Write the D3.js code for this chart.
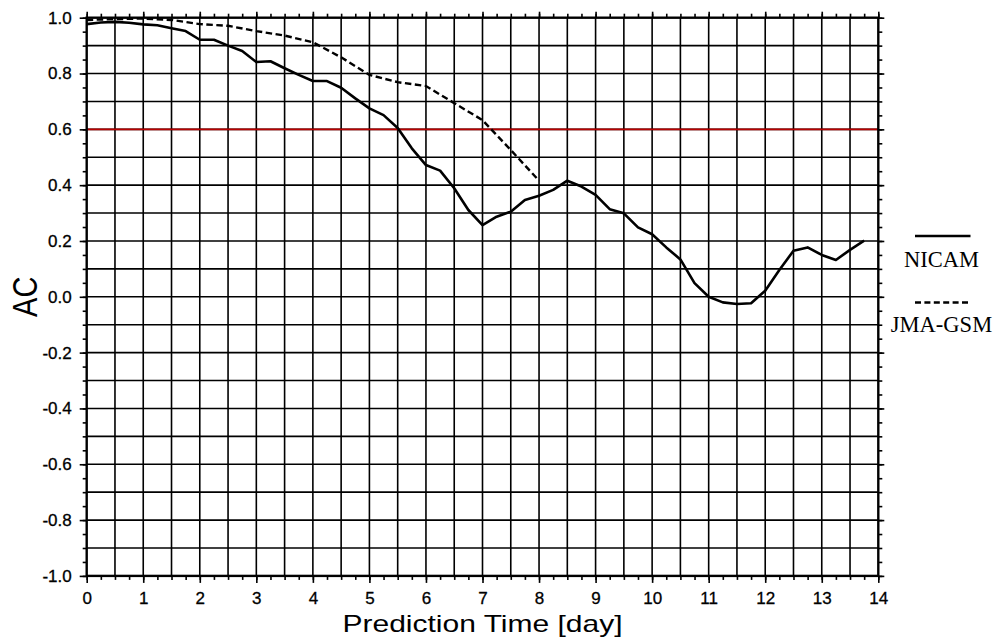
<!DOCTYPE html>
<meta charset="utf-8">
<head>
  <title>AC vs Prediction Time</title>
  <style>
  body { margin: 0; background: #fff; }
  .tick text { font-family: "Liberation Sans", Arial, sans-serif; font-size: 17px; fill: #000; }
  .domain { display: none; }
  </style>
</head>
<html>
  <body>
    <svg width="997" height="644"></svg>
  </body>
</html>
<script src="https://d3js.org/d3.v7.min.js"></script>
<script>
// NICAM: every 6 h (0.25 day)
var nicamDays = [0, 0.25, 0.5, 0.75, 1, 1.25, 1.5, 1.75, 2, 2.25, 2.5, 2.75, 3, 3.25, 3.5, 3.75,
  4, 4.25, 4.5, 4.75, 5, 5.25, 5.5, 5.75, 6, 6.25, 6.5, 6.75, 7, 7.25, 7.5, 7.75,
  8, 8.25, 8.5, 8.75, 9, 9.25, 9.5, 9.75, 10, 10.25, 10.5, 10.75, 11, 11.25, 11.5, 11.75,
  12, 12.25, 12.5, 12.75, 13, 13.25, 13.5, 13.75];
var nicamAC = [0.977, 0.983, 0.985, 0.982, 0.976, 0.973, 0.962, 0.952, 0.921, 0.921, 0.900, 0.881, 0.841, 0.844, 0.819, 0.795,
  0.773, 0.773, 0.749, 0.711, 0.675, 0.651, 0.605, 0.532, 0.472, 0.452, 0.389, 0.311, 0.257, 0.287, 0.305, 0.347,
  0.362, 0.383, 0.416, 0.395, 0.365, 0.314, 0.299, 0.249, 0.224, 0.177, 0.134, 0.049, 0.000, -0.020, -0.026, -0.023,
  0.022, 0.096, 0.165, 0.177, 0.150, 0.132, 0.168, 0.201];

// JMA-GSM: every 12 h (0.5 day)
var gsmDays = [0, 0.5, 1, 1.5, 2, 2.5, 3, 3.5, 4, 4.5, 5, 5.5, 6, 6.5, 7, 7.5, 8];
var gsmAC = [0.992, 0.995, 0.997, 0.992, 0.977, 0.971, 0.952, 0.936, 0.912, 0.858, 0.795, 0.769, 0.755, 0.694, 0.633, 0.526, 0.416];

var refLine = 0.6;
var xTicks = d3.range(0, 15, 1);
var yTicks = [-1.0, -0.8, -0.6, -0.4, -0.2, 0.0, 0.2, 0.4, 0.6, 0.8, 1.0];
var seriesNames = ["NICAM", "JMA-GSM"];

var svg = d3.select("svg"),
    pLeft = 86.7, pRight = 878.3, pTop = 17.7, pBottom = 575.9;

var x = d3.scaleLinear().domain([0, 14]).range([pLeft, pRight]);
var y = d3.scaleLinear().domain([-1, 1]).range([pBottom, pTop]);

var grid = svg.append("g")
    .attr("stroke", "#000")
    .attr("stroke-width", 1.6);

grid.selectAll(".vg")
  .data(d3.range(0.5, 14, 0.5))
  .enter().append("line")
    .attr("x1", function(d) { return x(d); })
    .attr("x2", function(d) { return x(d); })
    .attr("y1", pTop)
    .attr("y2", pBottom);

grid.selectAll(".hg")
  .data(d3.range(-9, 10).map(function(i) { return i / 10; }))
  .enter().append("line")
    .attr("x1", pLeft)
    .attr("x2", pRight)
    .attr("y1", function(d) { return y(d); })
    .attr("y2", function(d) { return y(d); });

// red reference line
svg.append("line")
    .attr("x1", pLeft)
    .attr("x2", pRight)
    .attr("y1", y(refLine))
    .attr("y2", y(refLine))
    .attr("stroke", "#b80000")
    .attr("stroke-width", 1.8);

var fmt = function(d) { return d.toFixed(1); };
var minorX = d3.range(0, 14.01, 0.25);
var minorY = d3.range(-20, 21).map(function(i) { return i / 20; });

function axis(gen, scale, pos, ticks, size, labels) {
  svg.append("g")
      .attr("transform", pos)
      .call(gen(scale).tickValues(ticks).tickSize(size).tickSizeOuter(0)
        .tickPadding(labels ? (gen === d3.axisBottom ? 9 : 8) : 0)
        .tickFormat(labels ? labels : ""))
    .selectAll(".tick line")
      .attr("stroke", "#000")
      .attr("stroke-width", 1.6);
}

axis(d3.axisBottom, x, "translate(0," + pBottom + ")", minorX, 4, null);
axis(d3.axisBottom, x, "translate(0," + pBottom + ")", xTicks, 7, function(d) { return d; });
axis(d3.axisTop, x, "translate(0," + pTop + ")", minorX, 4, null);
axis(d3.axisTop, x, "translate(0," + pTop + ")", xTicks, 6, null);
axis(d3.axisLeft, y, "translate(" + pLeft + ",0)", minorY, 4, null);
axis(d3.axisLeft, y, "translate(" + pLeft + ",0)", yTicks, 7, fmt);
axis(d3.axisRight, y, "translate(" + pRight + ",0)", minorY, 4, null);
axis(d3.axisRight, y, "translate(" + pRight + ",0)", yTicks, 6, null);

svg.selectAll(".tick text")
    .attr("fill", "#000")
    .attr("stroke", "#000")
    .attr("stroke-width", 0.3);

// frame
svg.append("rect")
    .attr("x", pLeft)
    .attr("y", pTop)
    .attr("width", pRight - pLeft)
    .attr("height", pBottom - pTop)
    .attr("fill", "none")
    .attr("stroke", "#000")
    .attr("stroke-width", 2.4);

var line = d3.line()
    .x(function(d) { return x(d[0]); })
    .y(function(d) { return y(d[1]); });

svg.append("path")
    .datum(gsmDays.map(function(d, i) { return [d, gsmAC[i]]; }))
    .attr("fill", "none")
    .attr("stroke", "#000")
    .attr("stroke-width", 2.4)
    .attr("stroke-dasharray", "6.5,3.5")
    .attr("d", line);

svg.append("path")
    .datum(nicamDays.map(function(d, i) { return [d, nicamAC[i]]; }))
    .attr("fill", "none")
    .attr("stroke", "#000")
    .attr("stroke-width", 2.6)
    .attr("stroke-linejoin", "round")
    .attr("d", line);

// axis titles
svg.append("text")
    .attr("transform", "translate(482.5,631.5) scale(1.25,1)")
    .attr("text-anchor", "middle")
    .style("font-family", "'Liberation Sans', Arial, sans-serif")
    .style("font-size", "24px")
    .text("Prediction Time [day]");

svg.append("text")
    .attr("transform", "translate(37," + y(0) + ") scale(1.21,1) rotate(-90)")
    .attr("text-anchor", "middle")
    .style("font-family", "'Liberation Sans', Arial, sans-serif")
    .style("font-size", "29px")
    .text("AC");

// legend
var legend = svg.append("g");
legend.append("line")
    .attr("x1", 915).attr("x2", 970.5)
    .attr("y1", 236).attr("y2", 236)
    .attr("stroke", "#000")
    .attr("stroke-width", 2.4);
legend.append("line")
    .attr("x1", 915).attr("x2", 968)
    .attr("y1", 302.5).attr("y2", 302.5)
    .attr("stroke", "#000")
    .attr("stroke-width", 2.4)
    .attr("stroke-dasharray", "6,3.4");
legend.selectAll("text")
  .data(seriesNames)
  .enter().append("text")
    .attr("x", 941.5)
    .attr("y", function(d, i) { return i === 0 ? 266.5 : 331.5; })
    .attr("text-anchor", "middle")
    .style("font-family", "'Liberation Serif', 'Times New Roman', serif")
    .style("font-size", "22.5px")
    .text(function(d) { return d; });
</script>
